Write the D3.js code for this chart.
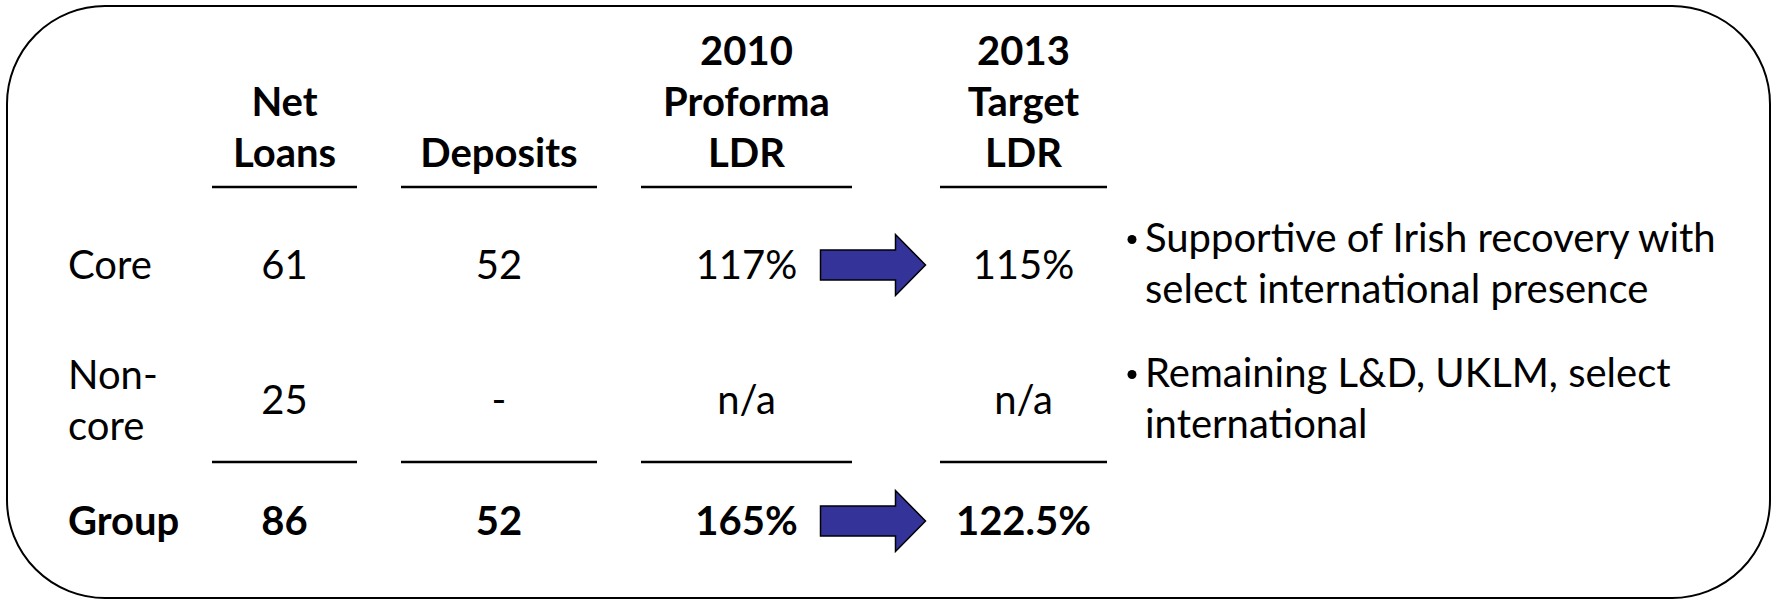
<!DOCTYPE html>
<html>
<head>
<meta charset="utf-8">
<script src="https://cdn.jsdelivr.net/npm/d3@7"></script>
<style>
  html, body { margin: 0; padding: 0; background: #ffffff; }
  svg { display: block; }
  text { font-family: Lato, "Open Sans", sans-serif; fill: #000; }
</style>
</head>
<body>
<svg id="chart" width="1773" height="607"></svg>
<script>
// ---- data ----
const rows = ["Core", "Non-core", "Group"];
const rowLabels = [["Core"], ["Non-", "core"], ["Group"]];
const netLoans = [61, 25, 86];
const deposits = [52, null, 52];
const ldr2010 = [117, null, 165];
const ldr2013 = [115, null, 122.5];
const columns = ["netLoans", "deposits", "ldr2010", "ldr2013"];
const headers = [["Net", "Loans"], ["Deposits"], ["2010", "Proforma", "LDR"], ["2013", "Target", "LDR"]];
const bullets = [
  ["Supportive of Irish recovery with", "select international presence"],
  ["Remaining L&D, UKLM, select", "international"]
];

// ---- layout ----
const FS = 40, LH = 51, BASE = 14;
const svg = d3.select("#chart");

const x = d3.scaleOrdinal()
  .domain(["label", "netLoans", "deposits", "ldr2010", "ldr2013", "notes"])
  .range([68, 284.5, 499, 746.5, 1023.5, 1145]);
const halfRule = d3.scaleOrdinal().domain(columns).range([72.5, 98, 105.5, 83.5]);
const y = d3.scaleOrdinal().domain(rows).range([265, 400, 521]);

// border
svg.append("rect")
  .attr("x", 7).attr("y", 6)
  .attr("width", 1763).attr("height", 592)
  .attr("rx", 98).attr("ry", 98)
  .attr("fill", "none").attr("stroke", "#000").attr("stroke-width", 2);

// headers (bottom aligned)
const headerBase = 167;
columns.forEach((c, i) => {
  const lines = headers[i];
  lines.forEach((t, j) => {
    svg.append("text")
      .attr("x", x(c))
      .attr("y", headerBase - (lines.length - 1 - j) * LH)
      .attr("text-anchor", "middle")
      .attr("font-size", FS).attr("font-weight", "bold")
      .text(t);
  });
});

// rules
const ruleYs = [187, 462];
ruleYs.forEach(ry => {
  columns.forEach(c => {
    svg.append("line")
      .attr("x1", x(c) - halfRule(c)).attr("x2", x(c) + halfRule(c))
      .attr("y1", ry).attr("y2", ry)
      .attr("stroke", "#000").attr("stroke-width", 2.5);
  });
});

const fmtNum = v => v == null ? "-" : String(v);
const fmtPct = v => v == null ? "n/a" : String(v) + "%";

rows.forEach((r, i) => {
  const cy = y(r);
  const bold = r === "Group" ? "bold" : "normal";
  const lab = rowLabels[i];
  lab.forEach((t, j) => {
    svg.append("text")
      .attr("x", x("label"))
      .attr("y", cy + BASE + (j - (lab.length - 1) / 2) * LH)
      .attr("font-size", FS).attr("font-weight", bold)
      .text(t);
  });
  const vals = [fmtNum(netLoans[i]), fmtNum(deposits[i]), fmtPct(ldr2010[i]), fmtPct(ldr2013[i])];
  columns.forEach((c, k) => {
    svg.append("text")
      .attr("x", x(c)).attr("y", cy + BASE)
      .attr("text-anchor", "middle")
      .attr("font-size", FS).attr("font-weight", bold)
      .text(vals[k]);
  });
  // arrow when both LDRs exist
  if (ldr2010[i] != null && ldr2013[i] != null) {
    const x0 = x("ldr2010") + 74;
    const shaft = 75, head = 30, sh = 15, hh = 30.5;
    const p = d3.path();
    p.moveTo(x0, cy - sh);
    p.lineTo(x0 + shaft, cy - sh);
    p.lineTo(x0 + shaft, cy - hh);
    p.lineTo(x0 + shaft + head, cy);
    p.lineTo(x0 + shaft, cy + hh);
    p.lineTo(x0 + shaft, cy + sh);
    p.lineTo(x0, cy + sh);
    p.closePath();
    svg.append("path").attr("d", p.toString())
      .attr("fill", "#333399").attr("stroke", "#000").attr("stroke-width", 1.5)
      .attr("stroke-linejoin", "miter");
  }
});

// bullets
bullets.forEach((lines, i) => {
  const cy = y(rows[i]);
  lines.forEach((t, j) => {
    const by = cy + BASE + (j - (lines.length - 1) / 2) * LH - 2;
    if (j === 0) {
      svg.append("circle")
        .attr("cx", x("notes") - 13).attr("cy", by - 12)
        .attr("r", 4.5).attr("fill", "#000");
    }
    svg.append("text").attr("x", x("notes")).attr("y", by)
      .attr("font-size", FS).text(t);
  });
});
</script>
</body>
</html>
